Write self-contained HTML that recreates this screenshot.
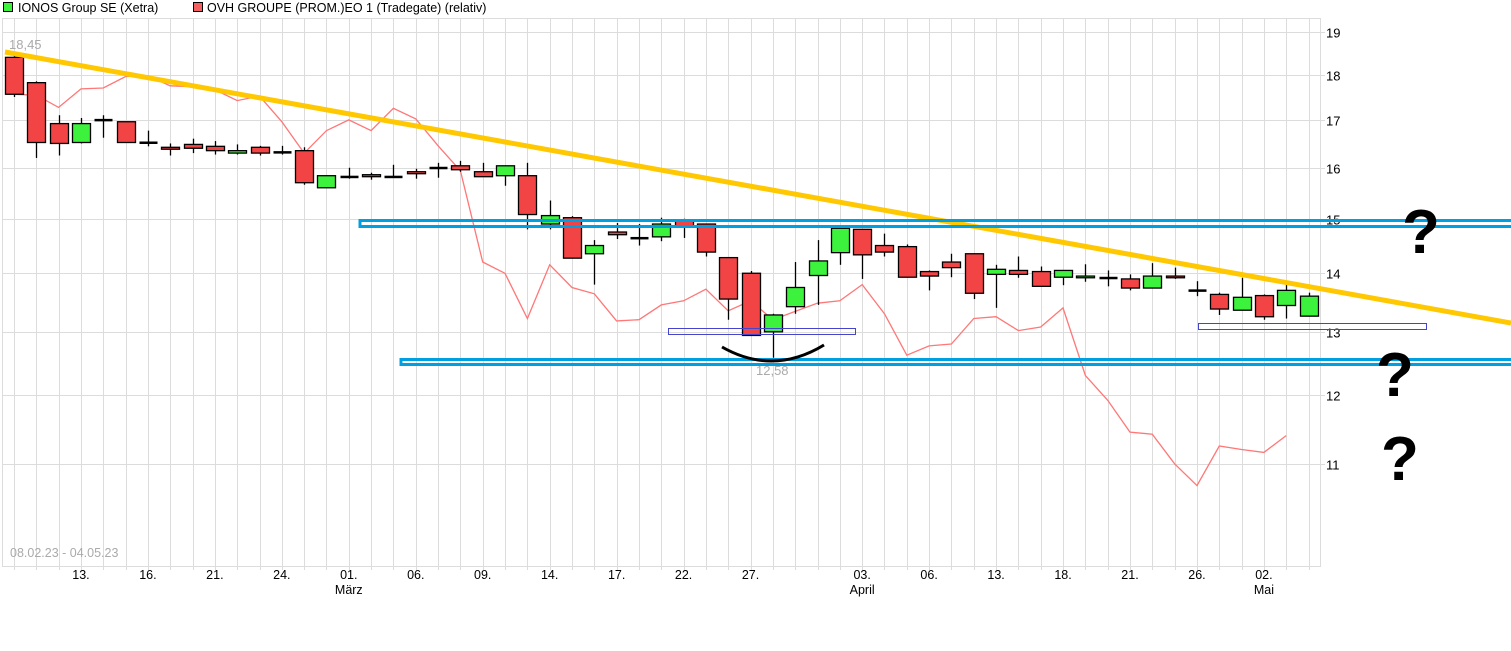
<!DOCTYPE html>
<html><head><meta charset="utf-8"><style>
body{margin:0;background:#fff;width:1511px;height:651px;overflow:hidden;font-family:"Liberation Sans",sans-serif}
svg{position:absolute;left:0;top:0}
</style></head><body>
<svg id="c" width="1511" height="651" font-family="Liberation Sans, sans-serif">
<g id="legend">
 <g><rect x="3.5" y="2.5" width="9" height="9" fill="#3df23d" stroke="#000"/><text x="18" y="12" font-size="12.5" fill="#000">IONOS Group SE (Xetra)</text></g>
 <g><rect x="193.5" y="2.5" width="9" height="9" fill="#f46060" stroke="#000"/><text x="207" y="12" font-size="12.5" fill="#000">OVH GROUPE (PROM.)EO 1 (Tradegate) (relativ)</text></g>
</g>
<g id="grid"></g>
<g id="axes"></g>
<polyline id="ovh" fill="none" stroke="#f77" stroke-width="1.3"/>
<g id="candles"></g>
<g>
 <line x1="5" y1="52" x2="1511" y2="323" stroke="#ffc800" stroke-width="5"/>
 <rect x="360" y="220.5" width="1160" height="6" fill="none" stroke="#00a0e0" stroke-width="3"/>
 <rect x="401" y="359.5" width="1120" height="5" fill="none" stroke="#00a0e0" stroke-width="3"/>
 <rect x="668.5" y="328.5" width="187" height="6" fill="none" stroke="#4444cc" stroke-width="1"/>
 <rect x="1198.5" y="323.5" width="228" height="6" fill="none" stroke="#4444cc" stroke-width="1"/>
 <path d="M722 347 Q773 376 824 345" fill="none" stroke="#000" stroke-width="3"/>
 <text x="9" y="49" font-size="13" fill="#aaa">18,45</text>
 <text x="756" y="375" font-size="13" fill="#aaa">12,58</text>
 <text x="10" y="557" font-size="12.5" fill="#aaa">08.02.23 - 04.05.23</text>
 <text x="1402" y="253" font-size="62" font-weight="bold" fill="#000">?</text>
 <text x="1376" y="396" font-size="62" font-weight="bold" fill="#000">?</text>
 <text x="1381" y="480" font-size="62" font-weight="bold" fill="#000">?</text>
</g>
</svg>
<script>
// IONOS OHLC (Xetra), trading days 08.02.23 – 04.05.23
const opens =[18.4,17.82,16.92,16.52,17.0,16.96,16.52,16.42,16.48,16.44,16.3,16.42,16.32,16.35,15.6,15.82,15.86,15.82,15.92,16.0,16.04,15.92,15.84,15.84,14.9,15.02,14.35,14.75,14.64,14.66,14.98,14.9,14.28,14.0,13.0,13.42,13.96,14.37,14.8,14.5,14.48,14.03,14.2,14.35,13.98,14.05,14.03,13.93,13.92,13.92,13.9,13.74,13.95,13.7,13.63,13.36,13.61,13.44,13.26];
const closes=[17.56,16.52,16.5,16.92,17.0,16.52,16.52,16.38,16.4,16.35,16.35,16.3,16.32,15.7,15.84,15.82,15.82,15.82,15.88,16.0,15.96,15.82,16.04,15.08,15.06,14.27,14.5,14.7,14.64,14.9,14.86,14.38,13.55,12.94,13.28,13.75,14.22,14.82,14.33,14.38,13.93,13.95,14.1,13.65,14.07,13.98,13.77,14.05,13.95,13.92,13.74,13.95,13.92,13.7,13.38,13.58,13.25,13.7,13.6];
const highs =[18.45,17.85,17.1,17.04,17.1,16.96,16.77,16.5,16.6,16.55,16.48,16.45,16.45,16.42,15.85,16.0,15.9,16.06,15.98,16.1,16.14,16.1,16.04,16.1,15.35,15.05,14.6,14.92,14.9,15.02,15.0,14.9,14.28,14.04,13.3,14.2,14.6,14.82,14.8,14.72,14.52,14.05,14.35,14.35,14.15,14.3,14.12,14.05,14.16,14.05,13.98,14.18,14.1,13.86,13.66,13.92,13.63,13.8,13.66];
const lows  =[17.5,16.2,16.25,16.5,16.62,16.52,16.44,16.25,16.3,16.27,16.27,16.25,16.27,15.66,15.6,15.78,15.76,15.82,15.78,15.8,15.92,15.82,15.64,14.8,14.8,14.27,13.8,14.62,14.5,14.58,14.64,14.3,13.2,12.94,12.58,13.3,13.45,14.15,13.9,14.3,13.93,13.7,13.93,13.55,13.4,13.92,13.77,13.79,13.85,13.77,13.7,13.74,13.9,13.6,13.28,13.36,13.2,13.22,13.26];
// OVH relative line
const ovh=[17.56,17.54,17.27,17.68,17.7,17.96,17.98,17.75,17.73,17.66,17.42,17.52,16.96,16.3,16.77,17.0,16.77,17.25,17.02,16.45,15.94,14.2,14.0,13.22,14.15,13.75,13.64,13.18,13.2,13.45,13.52,13.72,13.35,13.52,13.2,13.34,13.48,13.52,13.8,13.3,12.62,12.77,12.8,13.22,13.25,13.02,13.08,13.4,12.3,11.92,11.45,11.42,11.0,10.7,11.25,11.2,11.16,11.4];
const yTicks=[19,18,17,16,15,14,13,12,11];
const xLabels=[[3,"13."],[6,"16."],[9,"21."],[12,"24."],[15,"01."],[18,"06."],[21,"09."],[24,"14."],[27,"17."],[30,"22."],[33,"27."],[38,"03."],[41,"06."],[44,"13."],[47,"18."],[50,"21."],[53,"26."],[56,"02."]];
const months=[[15,"März"],[38,"April"],[56,"Mai"]];

const NS="http://www.w3.org/2000/svg";
const X=i=>14+i*22.32;
const Y=v=>32+Math.log(19/v)*790;
const L=2,R=1320,T=18,B=566;
function mk(tag,attrs,parent){const e=document.createElementNS(NS,tag);for(const k in attrs)e.setAttribute(k,attrs[k]);parent.appendChild(e);return e;}
const grid=document.getElementById('grid'),axes=document.getElementById('axes');
for(let i=0;i<opens.length;i++){
 const gx=Math.round(X(i))+0.5;
 const g=mk('line',{x1:gx,x2:gx,y1:T,y2:B+4,stroke:'#dcdcdc'},grid);
 
 
}
yTicks.forEach(v=>{
 const y=Math.round(Y(v))+0.5;
 const g=mk('line',{x1:L,x2:R+5,y1:y,y2:y,stroke:'#dcdcdc'},grid);
 
 
 const t=mk('text',{x:R+6,y:y+5,'font-size':13,fill:'#000'},axes);t.textContent=v;
 
 
});
mk('rect',{x:L+0.5,y:T+0.5,width:R-L,height:B-T,fill:'none',stroke:'#dcdcdc'},grid);
xLabels.forEach(([i,s])=>{
 const t=mk('text',{x:X(i),y:579,'font-size':12.5,'text-anchor':'middle',fill:'#000'},axes);t.textContent=s;
 
 
});
months.forEach(([i,s])=>{
 const t=mk('text',{x:X(i),y:594,'font-size':12.5,'text-anchor':'middle',fill:'#000'},axes);t.textContent=s;
 
 
});
document.getElementById('ovh').setAttribute('points',ovh.map((v,i)=>X(i).toFixed(1)+','+Y(v).toFixed(1)).join(' '));
const cg=document.getElementById('candles');
for(let i=0;i<opens.length;i++){
 const x=Math.round(X(i))+0.5,o=opens[i],c=closes[i];
 const w=mk('line',{x1:x,x2:x,y1:Y(highs[i]),y2:Y(lows[i]),stroke:'#000','stroke-width':1.3},cg);
 
 
 const top=Y(Math.max(o,c)),bot=Y(Math.min(o,c));
 let b;
 if(bot-top<1.5){b=mk('rect',{x:x-9,y:top-1,width:18,height:2.5,fill:'#000'},cg);}
 else b=mk('rect',{x:x-9,y:top,width:18,height:bot-top,fill:c>o?'#3df23d':'#f24444',stroke:'#000','stroke-width':1.3},cg);
 
 
}
</script>
</body></html>
